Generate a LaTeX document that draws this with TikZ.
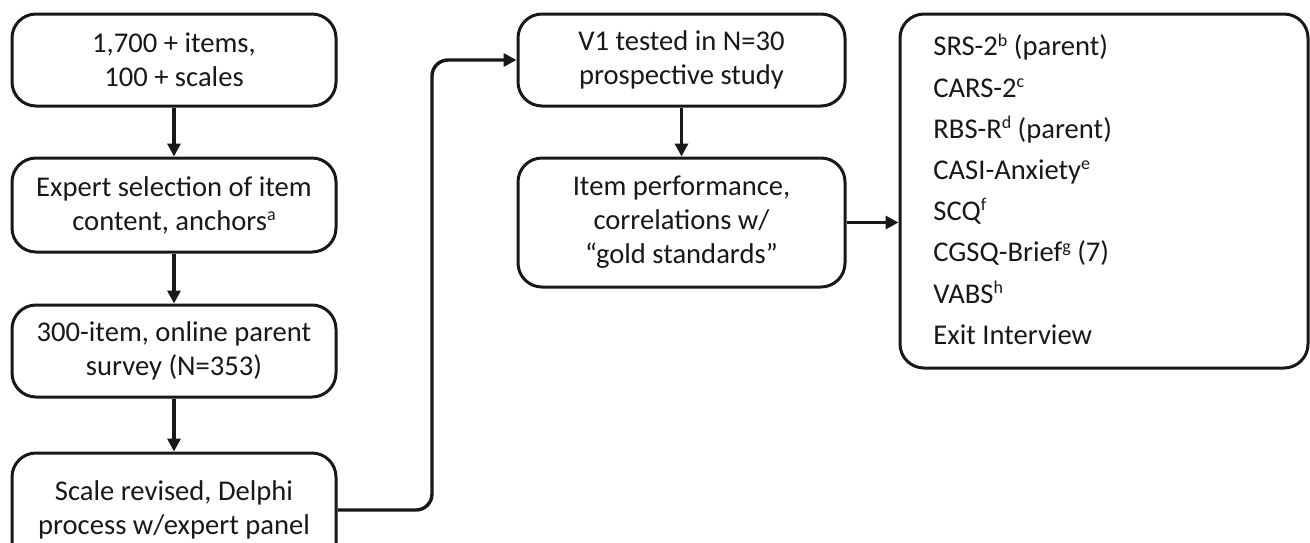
\documentclass[tikz,border=0pt]{standalone}
\usepackage{fontspec}
\setmainfont{Carlito}
\usetikzlibrary{arrows.meta}
\definecolor{ink}{HTML}{1A1718}
\newcommand\sps[1]{\raisebox{0.72ex}{\fontsize{9}{9}\selectfont #1}}
\tikzset{
  stepbox/.style={draw=ink, line width=1.5pt, rounded corners=12pt, align=center,
    inner sep=0pt, font=\fontsize{14.3}{17}\selectfont, text=ink, minimum width=162pt},
  arr/.style={draw=ink, line width=1.7pt, -{Triangle[length=6.5pt,width=6.5pt]}},
  listtext/.style={align=left, inner sep=0pt, text=ink, font=\fontsize{14.3}{20.6}\selectfont},
}
\begin{document}
\begin{tikzpicture}[x=0.5pt,y=-0.5pt]
\useasboundingbox (0,0) rectangle (1310,542);
\node[stepbox, minimum height=46pt] (b1) at (174,60) {1,700 + items,\\100 + scales};
\node[stepbox, minimum height=47pt] (b2) at (174,205) {Expert selection of item\\content, anchors\sps{a}};
\node[stepbox, minimum height=46pt] (b3) at (174,351) {300-item, online parent\\survey (N=353)};
\node[stepbox, minimum height=57pt] (b4) at (174,510) {Scale revised, Delphi\\process w/expert panel};
\node[stepbox, minimum width=163.5pt, minimum height=46pt] (v1) at (681.5,60) {V1 tested in N=30\\prospective study};
\node[stepbox, minimum width=163.5pt, minimum height=64.5pt] (ip) at (681.5,222.5) {Item performance,\\correlations w/\\“gold standards”};
\node[stepbox, minimum width=204pt, minimum height=177pt] (ls) at (1104,191) {};
\node[listtext, anchor=west] (lt) at (933,189) {SRS-2\sps{b} (parent)\\
CARS-2\sps{c}\\
RBS-R\sps{d} (parent)\\
CASI-Anxiety\sps{e}\\
SCQ\sps{f}\\
CGSQ-Brief\sps{g} (7)\\
VABS\sps{h}\\
Exit Interview};
\coordinate (k) at (432,300);
\draw[arr] (b1) -- (b2);
\draw[arr] (b2) -- (b3);
\draw[arr] (b3) -- (b4);
\draw[arr, rounded corners=8pt] (b4.east) -| (k) |- (v1.west);
\draw[arr] (v1) -- (ip);
\draw[arr] (ip.east) -- (ip.east -| ls.west);
\end{tikzpicture}
\end{document}
